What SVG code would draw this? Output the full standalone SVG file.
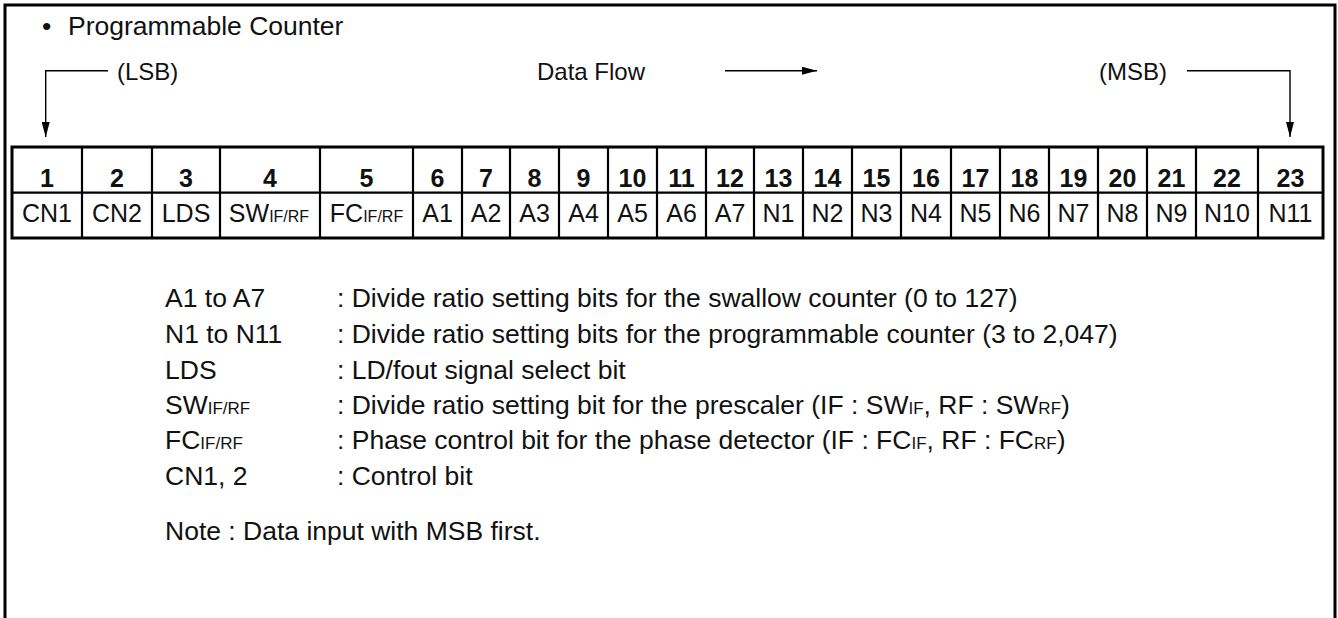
<svg xmlns="http://www.w3.org/2000/svg" width="1338" height="618" viewBox="0 0 1338 618">
<style>
text{font-family:"Liberation Sans",Arial,Helvetica,sans-serif;fill:#111;}
.t{font-size:26.5px;}
.m{font-size:24px;}
.n{font-size:25px;font-weight:bold;text-anchor:middle;}
.c{font-size:25px;text-anchor:middle;}
.s{font-size:16px;}
.ds{font-size:17px;}
.grid{stroke:#000;stroke-width:2.2;fill:none;}
.outer{stroke:#000;stroke-width:3;fill:none;}
.conn{stroke:#000;stroke-width:1.4;fill:none;}
</style>
<defs>
<marker id="ah" markerUnits="userSpaceOnUse" markerWidth="16" markerHeight="8" refX="15" refY="4" orient="auto">
<path d="M0,0 L15,4 L0,8 z" fill="#000"/>
</marker>
</defs>
<rect width="1338" height="618" fill="#fff"/>
<path class="outer" d="M5,618 V5 H1335 V618"/>
<g id="title">
<text class="t" x="42" y="35">•</text>
<text class="t" x="68" y="35">Programmable Counter</text>
</g>
<g id="labels-top">
<text class="m" x="117" y="80">(LSB)</text>
<text class="m" x="537" y="80">Data Flow</text>
<text class="m" x="1099" y="80">(MSB)</text>
</g>
<g id="connectors">
<path class="conn" d="M108,70.7 H45.7 V137" marker-end="url(#ah)"/>
<path class="conn" d="M1187,70.7 H1290 V137" marker-end="url(#ah)"/>
<path class="conn" d="M725,70.7 H817" marker-end="url(#ah)"/>
</g>
<g id="table">
<rect class="outer" x="12" y="147" width="1311" height="91"/>
<line class="grid" x1="12" y1="192.7" x2="1323" y2="192.7"/>
<path class="grid" d="M82,147V238 M152,147V238 M220,147V238 M320,147V238 M413,147V238 M462,147V238 M510,147V238 M559,147V238 M608,147V238 M657,147V238 M706,147V238 M754,147V238 M803,147V238 M852,147V238 M901,147V238 M951,147V238 M1000,147V238 M1049,147V238 M1098,147V238 M1147,147V238 M1196,147V238 M1258,147V238"/>
<g id="bit1"><text class="n" x="47" y="186.5">1</text><text class="c" x="47" y="221.5">CN1</text></g>
<g id="bit2"><text class="n" x="117" y="186.5">2</text><text class="c" x="117" y="221.5">CN2</text></g>
<g id="bit3"><text class="n" x="186" y="186.5">3</text><text class="c" x="186" y="221.5">LDS</text></g>
<g id="bit4"><text class="n" x="270" y="186.5">4</text><text class="c" x="269" y="221.5">SW<tspan class="s">IF/RF</tspan></text></g>
<g id="bit5"><text class="n" x="366.5" y="186.5">5</text><text class="c" x="366.5" y="221.5">FC<tspan class="s">IF/RF</tspan></text></g>
<g id="bit6"><text class="n" x="437.5" y="186.5">6</text><text class="c" x="437.5" y="221.5">A1</text></g>
<g id="bit7"><text class="n" x="486" y="186.5">7</text><text class="c" x="486" y="221.5">A2</text></g>
<g id="bit8"><text class="n" x="534.5" y="186.5">8</text><text class="c" x="534.5" y="221.5">A3</text></g>
<g id="bit9"><text class="n" x="583.5" y="186.5">9</text><text class="c" x="583.5" y="221.5">A4</text></g>
<g id="bit10"><text class="n" x="632.5" y="186.5">10</text><text class="c" x="632.5" y="221.5">A5</text></g>
<g id="bit11"><text class="n" x="681.5" y="186.5">11</text><text class="c" x="681.5" y="221.5">A6</text></g>
<g id="bit12"><text class="n" x="730" y="186.5">12</text><text class="c" x="730" y="221.5">A7</text></g>
<g id="bit13"><text class="n" x="778.5" y="186.5">13</text><text class="c" x="778.5" y="221.5">N1</text></g>
<g id="bit14"><text class="n" x="827.5" y="186.5">14</text><text class="c" x="827.5" y="221.5">N2</text></g>
<g id="bit15"><text class="n" x="876.5" y="186.5">15</text><text class="c" x="876.5" y="221.5">N3</text></g>
<g id="bit16"><text class="n" x="926" y="186.5">16</text><text class="c" x="926" y="221.5">N4</text></g>
<g id="bit17"><text class="n" x="975.5" y="186.5">17</text><text class="c" x="975.5" y="221.5">N5</text></g>
<g id="bit18"><text class="n" x="1024.5" y="186.5">18</text><text class="c" x="1024.5" y="221.5">N6</text></g>
<g id="bit19"><text class="n" x="1073.5" y="186.5">19</text><text class="c" x="1073.5" y="221.5">N7</text></g>
<g id="bit20"><text class="n" x="1122.5" y="186.5">20</text><text class="c" x="1122.5" y="221.5">N8</text></g>
<g id="bit21"><text class="n" x="1171.5" y="186.5">21</text><text class="c" x="1171.5" y="221.5">N9</text></g>
<g id="bit22"><text class="n" x="1227" y="186.5">22</text><text class="c" x="1227" y="221.5">N10</text></g>
<g id="bit23"><text class="n" x="1290.5" y="186.5">23</text><text class="c" x="1290.5" y="221.5">N11</text></g>
</g>
<g id="legend">
<text class="t" x="165" y="307">A1 to A7</text>
<text class="t" x="337" y="307">: Divide ratio setting bits for the swallow counter (0 to 127)</text>
<text class="t" x="165" y="343">N1 to N11</text>
<text class="t" x="337" y="343">: Divide ratio setting bits for the programmable counter (3 to 2,047)</text>
<text class="t" x="165" y="378.5">LDS</text>
<text class="t" x="337" y="378.5">: LD/fout signal select bit</text>
<text class="t" x="165" y="414">SW<tspan class="ds">IF/RF</tspan></text>
<text class="t" x="337" y="414">: Divide ratio setting bit for the prescaler (IF : SW<tspan class="ds">IF</tspan>, RF : SW<tspan class="ds">RF</tspan>)</text>
<text class="t" x="165" y="449.3">FC<tspan class="ds">IF/RF</tspan></text>
<text class="t" x="337" y="449.3">: Phase control bit for the phase detector (IF : FC<tspan class="ds">IF</tspan>, RF : FC<tspan class="ds">RF</tspan>)</text>
<text class="t" x="165" y="484.6">CN1, 2</text>
<text class="t" x="337" y="484.6">: Control bit</text>
</g>
<g id="note">
<text class="t" x="165" y="540">Note : Data input with MSB first.</text>
</g>
</svg>
